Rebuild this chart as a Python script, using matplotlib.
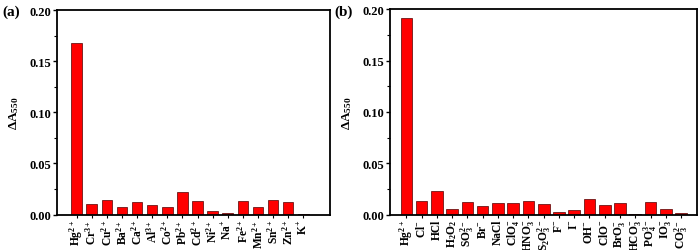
import matplotlib
matplotlib.use('Agg')
import matplotlib.pyplot as plt
from matplotlib.ticker import MultipleLocator

plt.rcParams['font.family'] = 'Liberation Serif'
plt.rcParams['font.weight'] = 'bold'
plt.rcParams['mathtext.fontset'] = 'custom'
plt.rcParams['mathtext.rm'] = 'Liberation Serif:bold'
plt.rcParams['mathtext.it'] = 'Liberation Serif:bold'
plt.rcParams['mathtext.bf'] = 'Liberation Serif:bold'
plt.rcParams['mathtext.default'] = 'bf'

# (a) metal ions
ions_a = [r'Hg$^{2+}$', r'Cr$^{3+}$', r'Cu$^{2+}$', r'Ba$^{2+}$', r'Ca$^{2+}$',
          r'Al$^{3+}$', r'Co$^{2+}$', r'Pb$^{2+}$', r'Cd$^{2+}$', r'Ni$^{2+}$',
          r'Na$^{+}$', r'Fe$^{2+}$', r'Mn$^{2+}$', r'Sn$^{2+}$', r'Zn$^{2+}$', r'K$^{+}$']
vals_a = [0.1675, 0.0107, 0.0140, 0.0078, 0.0120, 0.0090, 0.0078, 0.0218,
          0.0136, 0.0039, 0.0013, 0.0136, 0.0078, 0.0143, 0.0120, 0.0006]

# (b) anions / others
ions_b = [r'Hg$^{2+}$', r'Cl$^{-}$', 'HCl', r'H$_2$O$_2$', r'SO$_3^{2-}$', r'Br$^{-}$',
          'NaCl', r'ClO$_4^{-}$', r'HNO$_3^{-}$', r'S$_2$O$_3^{2-}$', r'F$^{-}$', r'I$^{-}$',
          r'OH$^{-}$', r'ClO$^{-}$', r'BrO$_3^{-}$', r'HCO$_3^{-}$', r'PO$_4^{3-}$',
          r'IO$_3^{-}$', r'CO$_3^{2-}$']
vals_b = [0.1915, 0.0130, 0.0234, 0.0055, 0.0127, 0.0084, 0.0117, 0.0117,
          0.0136, 0.0104, 0.0030, 0.0045, 0.0156, 0.0094, 0.0117, 0.0010,
          0.0127, 0.0055, 0.0020]

fig = plt.figure(figsize=(7, 2.51), dpi=100)
ax1 = fig.add_axes([0.081, 0.141, 0.390, 0.815])
ax2 = fig.add_axes([0.557, 0.141, 0.439, 0.818])

def style(ax, labels, values, width, xlim):
    x = range(len(labels))
    ax.bar(x, values, width=width, color='#ff0000', edgecolor='#500000', linewidth=0.5)
    ax.set_xticks(list(x))
    ax.set_xticklabels(labels, rotation=90, fontsize=8.3, fontweight='bold')
    ax.set_xlim(*xlim)
    ax.set_ylim(0, 0.2)
    ax.yaxis.set_major_locator(MultipleLocator(0.05))
    ax.yaxis.set_minor_locator(MultipleLocator(0.025))
    ax.yaxis.set_major_formatter(plt.FormatStrFormatter('%.2f'))
    ax.tick_params(axis='y', which='major', direction='out', length=3, width=1,
                   labelsize=9, pad=1)
    ax.tick_params(axis='y', which='minor', direction='out', length=2, width=0.8)
    ax.tick_params(axis='x', direction='out', length=2, width=0.8, pad=1)
    for s in ax.spines.values():
        s.set_linewidth(1.3)
    ax.set_ylabel(r'$\Delta$A$_{550}$', fontsize=9.5, fontweight='bold', labelpad=6)

style(ax1, ions_a, vals_a, 0.7, (-1.32, 16.75))
style(ax2, ions_b, vals_b, 0.76, (-1.08, 19.06))

fig.text(0.004, 0.95, '(a)', fontsize=11, fontweight='bold', va='center')
fig.text(0.477, 0.95, '(b)', fontsize=11, fontweight='bold', va='center')

fig.savefig('out.png', dpi=100)
